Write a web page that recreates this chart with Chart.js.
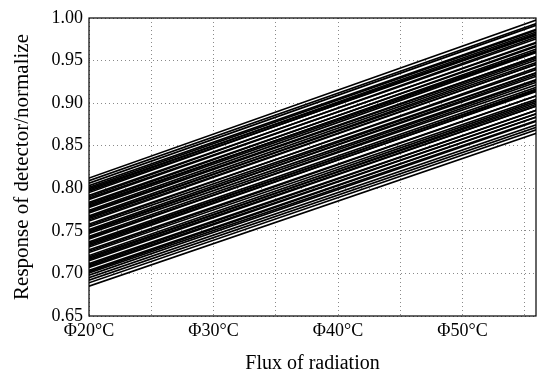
<!DOCTYPE html>
<html>
<head>
<meta charset="utf-8">
<script src="https://cdn.jsdelivr.net/npm/chart.js@4"></script>
<style>
  html, body { margin: 0; padding: 0; background: #fff; }
  #wrap { width: 538px; height: 376px; position: relative; }
</style>
</head>
<body>
<div id="wrap"><canvas id="chart"></canvas></div>
<script>
// ====================================
// Detector response vs radiation flux
// ====================================

// x positions where each straight response line starts and ends
const xStart = 20;
const xEnd = 56;

// response at the left end (x = 20) for each line
const startVals = [
  0.812, 0.809, 0.806, 0.803,
  0.801, 0.7995, 0.798, 0.7965, 0.795,
  0.7915, 0.790, 0.7885, 0.787,
  0.7835, 0.782, 0.7805, 0.779, 0.7775,
  0.774, 0.7725, 0.771,
  0.7675, 0.766, 0.7645, 0.763, 0.7615,
  0.758, 0.7565, 0.755,
  0.7515, 0.750, 0.7485, 0.747,
  0.7435, 0.742, 0.7405,
  0.737, 0.7355, 0.734, 0.7325, 0.731,
  0.7275, 0.726, 0.7245,
  0.721, 0.7195, 0.718, 0.7165, 0.715,
  0.7115, 0.710, 0.7085, 0.707,
  0.7035, 0.702, 0.7005,
  0.698, 0.695, 0.692, 0.689, 0.685
];

// response at the right end (x = 56) for the same lines
const endVals = [
  0.998, 0.994, 0.992, 0.987,
  0.986, 0.981, 0.984, 0.980, 0.982,
  0.976, 0.978, 0.971, 0.972,
  0.967, 0.968, 0.962, 0.964, 0.961,
  0.960, 0.955, 0.955,
  0.953, 0.948, 0.951, 0.946, 0.946,
  0.940, 0.942, 0.936,
  0.936, 0.932, 0.934, 0.928,
  0.927, 0.922, 0.925,
  0.919, 0.916, 0.917, 0.914, 0.915,
  0.909, 0.909, 0.905,
  0.903, 0.899, 0.901, 0.897, 0.897,
  0.892, 0.892, 0.888, 0.888,
  0.884, 0.884, 0.880,
  0.879, 0.875, 0.872, 0.869, 0.865
];

// labelled x ticks
const xTickVals = [20, 30, 40, 50];
const xTickText = ['Φ20°C', 'Φ30°C', 'Φ40°C', 'Φ50°C'];

const FONT = "'Liberation Serif', 'Times New Roman', serif";

const datasets = startVals.map((s, i) => ({
  data: [{ x: xStart, y: s }, { x: xEnd, y: endVals[i] }],
  borderColor: '#000',
  borderWidth: 1.7,
  pointRadius: 0,
  fill: false,
  tension: 0
}));

// box round the plot area
const frame = {
  id: 'frame',
  afterDraw(chart) {
    const { ctx, chartArea: a } = chart;
    ctx.save();
    ctx.strokeStyle = '#000';
    ctx.lineWidth = 1.2;
    ctx.strokeRect(a.left, a.top, a.right - a.left, a.bottom - a.top);
    ctx.restore();
  }
};

const gridOpts = { color: '#8a8a8a', drawTicks: false, lineWidth: 1 };

new Chart(document.getElementById('chart'), {
  type: 'line',
  data: { datasets },
  plugins: [frame],
  options: {
    responsive: true,
    maintainAspectRatio: false,
    animation: false,
    layout: { padding: { top: 18, right: 2, left: 10, bottom: 0 } },
    plugins: { legend: { display: false }, tooltip: { enabled: false } },
    scales: {
      x: {
        type: 'linear',
        min: 20,
        max: 55.9,
        afterFit(scale) { scale.height = 60; },
        afterBuildTicks(scale) {
          scale.ticks = [20, 25, 30, 35, 40, 45, 50, 55].map(v => ({ value: v }));
        },
        ticks: {
          autoSkip: false,
          maxRotation: 0,
          color: '#000',
          padding: 4,
          font: { family: FONT, size: 18 },
          callback(v) {
            const i = xTickVals.indexOf(v);
            return i >= 0 ? xTickText[i] : '';
          }
        },
        grid: gridOpts,
        border: { display: false, dash: [1, 3] },
        title: {
          display: true,
          text: 'Flux of radiation',
          color: '#000',
          font: { family: FONT, size: 20 },
          padding: { top: 2, bottom: 0 }
        }
      },
      y: {
        min: 0.65,
        max: 1.0,
        afterFit(scale) { scale.width = 79; },
        ticks: {
          stepSize: 0.05,
          color: '#000',
          padding: 6,
          font: { family: FONT, size: 18 },
          callback: v => v.toFixed(2)
        },
        grid: gridOpts,
        border: { display: false, dash: [1, 3] },
        title: {
          display: true,
          text: 'Response of detector/normalize',
          color: '#000',
          font: { family: FONT, size: 21 },
          padding: { top: 0, bottom: 2 }
        }
      }
    }
  }
});
</script>
</body>
</html>
